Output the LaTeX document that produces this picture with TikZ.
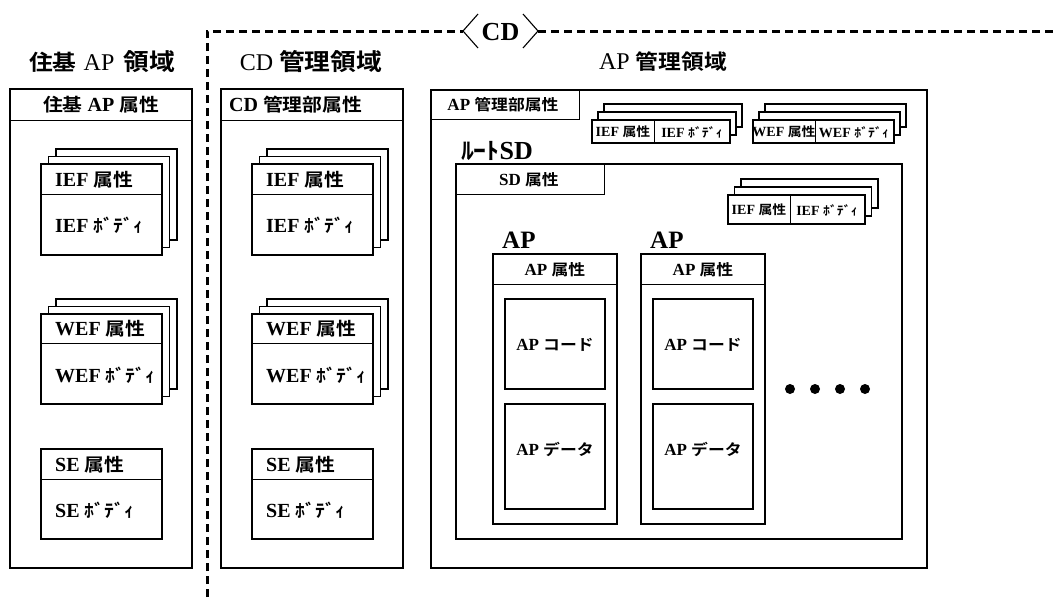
\documentclass[tikz,border=0pt]{standalone}
\usepackage{fontspec}
\setmainfont{Liberation Serif}
\newfontfamily\jp{Noto Sans CJK JP}[Scale=0.9, FakeStretch=1.1, BoldFont={Noto Sans CJK JP Bold}]
\newcommand\J[1]{{\jp #1}}
% stacked box: name, x, y, w, h, dx, dy
\newcommand\stk[7]{%
  \node[bx, minimum width=#4pt, minimum height=#5pt] (#1b) at ({#2+2*#6},{#3-2*#7}) {};
  \node[bx, minimum width=#4pt, minimum height=#5pt] (#1a) at ({#2+#6},{#3-#7}) {};
  \node[bx, minimum width=#4pt, minimum height=#5pt] (#1) at (#2,#3) {};
}
\begin{document}
\begin{tikzpicture}[x=1pt,y=-1pt,
  bx/.style={draw, fill=white, line width=1.6pt, anchor=north west, inner sep=0pt, outer sep=0pt},
  hdr/.style={line width=0.8pt},
  lbl/.style={font=\bfseries\fontsize{20}{20}\selectfont, inner sep=0pt},
  rlbl/.style={font=\bfseries\fontsize{17}{17}\selectfont, inner sep=0pt},
  sml/.style={font=\bfseries\fontsize{14}{14}\selectfont, inner sep=0pt},
  ttl/.style={font=\fontsize{24}{24}\selectfont, inner sep=0pt},
  cdline/.style={line width=3pt, dash pattern=on 8pt off 5pt},
  brk/.style={line width=1.1pt}]
\useasboundingbox (0,0) rectangle (1056,597);

% CD dashed boundary with <CD> label
\coordinate (cdbot) at (207,597);
\coordinate (cdcorner) at (207,31);
\coordinate (cdright) at (1056,31);
\coordinate (cdl) at (463,31);
\coordinate (cdlt) at (478,14);
\coordinate (cdlb) at (478,48);
\coordinate (cdr) at (538,31);
\coordinate (cdrt) at (523,14);
\coordinate (cdrb) at (523,48);
\draw[cdline] (cdbot) -- (cdcorner) -- (cdl);
\draw[cdline] (cdr) -- (cdright);
\draw[brk] (cdlt) -- (cdl) -- (cdlb);
\draw[brk] (cdrt) -- (cdr) -- (cdrb);
\node[inner sep=0pt, font=\bfseries\fontsize{26}{26}\selectfont] (cdlbl) at (500.5,32) {CD};

% titles
\node[ttl] (t1) at (102,62) {\J{\bfseries 住基}\hspace{1pt} AP\hspace{3pt} \J{\bfseries\fontsize{26}{26}\selectfont 領域}};
\node[ttl] (t2) at (311,62) {CD \J{\bfseries\fontsize{26}{26}\selectfont 管理領域}};
\node[ttl] (t3) at (663,62) {AP \J{\bfseries\fontsize{23}{23}\selectfont 管理領域}};

% ---------- left column ----------
\node[bx, minimum width=182pt, minimum height=479pt] (lbox) at (10,89) {};
\draw[hdr] ([yshift=-31pt]lbox.north west) -- ([yshift=-31pt]lbox.north east);
\node[lbl] (lhdr) at (101,105) {\J{住基} AP \J{属性}};

\stk{lief}{41}{164}{121}{91}{7.5}{7.5}
\draw[hdr] ([yshift=-30pt]lief.north west) -- ([yshift=-30pt]lief.north east);
\node[lbl, anchor=west] (liefh) at (55,180) {IEF \J{属性}};
\node[lbl, anchor=west] (liefb) at (55,225) {IEF \J{ﾎﾞﾃﾞｨ}};

\stk{lwef}{41}{314}{121}{90}{7.5}{7.5}
\draw[hdr] ([yshift=-29pt]lwef.north west) -- ([yshift=-29pt]lwef.north east);
\node[lbl, anchor=west] (lwefh) at (55,329) {WEF \J{属性}};
\node[lbl, anchor=west] (lwefb) at (55,375) {WEF \J{ﾎﾞﾃﾞｨ}};

\node[bx, minimum width=121pt, minimum height=90pt] (lse) at (41,449) {};
\draw[hdr] ([yshift=-30pt]lse.north west) -- ([yshift=-30pt]lse.north east);
\node[lbl, anchor=west] (lseh) at (55,465) {SE \J{属性}};
\node[lbl, anchor=west] (lseb) at (55,510) {SE \J{ﾎﾞﾃﾞｨ}};

% ---------- middle column ----------
\node[bx, minimum width=182pt, minimum height=479pt] (mbox) at (221,89) {};
\draw[hdr] ([yshift=-31pt]mbox.north west) -- ([yshift=-31pt]mbox.north east);
\node[lbl, anchor=west] (mhdr) at (229,105) {CD \J{管理部属性}};

\stk{mief}{252}{164}{121}{91}{7.5}{7.5}
\draw[hdr] ([yshift=-30pt]mief.north west) -- ([yshift=-30pt]mief.north east);
\node[lbl, anchor=west] (miefh) at (266,180) {IEF \J{属性}};
\node[lbl, anchor=west] (miefb) at (266,225) {IEF \J{ﾎﾞﾃﾞｨ}};

\stk{mwef}{252}{314}{121}{90}{7.5}{7.5}
\draw[hdr] ([yshift=-29pt]mwef.north west) -- ([yshift=-29pt]mwef.north east);
\node[lbl, anchor=west] (mwefh) at (266,329) {WEF \J{属性}};
\node[lbl, anchor=west] (mwefb) at (266,375) {WEF \J{ﾎﾞﾃﾞｨ}};

\node[bx, minimum width=121pt, minimum height=90pt] (mse) at (252,449) {};
\draw[hdr] ([yshift=-30pt]mse.north west) -- ([yshift=-30pt]mse.north east);
\node[lbl, anchor=west] (mseh) at (266,465) {SE \J{属性}};
\node[lbl, anchor=west] (mseb) at (266,510) {SE \J{ﾎﾞﾃﾞｨ}};

% ---------- right area ----------
\node[bx, minimum width=496pt, minimum height=478pt] (rbox) at (431,90) {};
\node[bx, hdr, minimum width=148pt, minimum height=29pt] (rhdr) at (431,90) {};
\draw[line width=1.6pt] (rbox.north west) -- (rbox.north east);
\draw[line width=1.6pt] (rbox.north west) -- (rbox.south west);
\node[rlbl] (rhdrt) at (503,105) {AP \J{管理部属性}};

\stk{rief}{592}{120}{138}{23}{6}{8}
\draw[hdr] ([xshift=62pt]rief.north west) -- ([xshift=62pt]rief.south west);
\node[sml] (riefh) at (623,132) {IEF \J{属性}};
\node[sml] (riefb) at (692,132) {IEF \J{ﾎﾞﾃﾞｨ}};

\stk{rwef}{753}{120}{141}{23}{6}{8}
\draw[hdr] ([xshift=62pt]rwef.north west) -- ([xshift=62pt]rwef.south west);
\node[sml] (rwefh) at (784,132) {WEF \J{属性}};
\node[sml] (rwefb) at (854,132) {WEF \J{ﾎﾞﾃﾞｨ}};

\node[font=\bfseries\fontsize{26}{26}\selectfont, inner sep=0pt] (rootsd) at (497,151) {\J{ﾙｰﾄ}SD};

% SD box
\node[bx, minimum width=446pt, minimum height=375pt] (sd) at (456,164) {};
\node[bx, hdr, minimum width=148pt, minimum height=30pt] (sdhdr) at (456,164) {};
\draw[line width=1.6pt] (sd.north west) -- (sd.north east);
\draw[line width=1.6pt] (sd.north west) -- (sd.south west);
\node[rlbl] (sdhdrt) at (529,180) {SD \J{属性}};

\stk{sdief}{728}{195}{137}{29}{6.5}{8}
\draw[hdr] ([xshift=62pt]sdief.north west) -- ([xshift=62pt]sdief.south west);
\node[sml] (sdiefh) at (759,210) {IEF \J{属性}};
\node[sml] (sdiefb) at (827,210) {IEF \J{ﾎﾞﾃﾞｨ}};

% AP boxes
\foreach \nm/\x in {apa/493, apb/641} {
  \node[font=\bfseries\fontsize{25}{25}\selectfont, inner sep=0pt, anchor=west] (\nm t) at (\x+9,240) {AP};
  \node[bx, minimum width=124pt, minimum height=270pt] (\nm) at (\x,254) {};
  \draw[hdr] ([yshift=-30pt]\nm.north west) -- ([yshift=-30pt]\nm.north east);
  \node[rlbl] (\nm h) at (\x+62,270) {AP \J{属性}};
  \node[bx, minimum width=100pt, minimum height=90pt] (\nm c) at (\x+12,299) {};
  \node[rlbl] (\nm ct) at (\x+62,345) {AP \J{コード}};
  \node[bx, minimum width=100pt, minimum height=105pt] (\nm d) at (\x+12,404) {};
  \node[rlbl] (\nm dt) at (\x+62,449) {AP \J{データ}};
}

% dots
\foreach \i/\x in {1/790, 2/815, 3/840, 4/865} {
  \node[circle, fill=black, inner sep=0pt, minimum size=10pt] (dot\i) at (\x,389) {};
}
\end{tikzpicture}
\end{document}
